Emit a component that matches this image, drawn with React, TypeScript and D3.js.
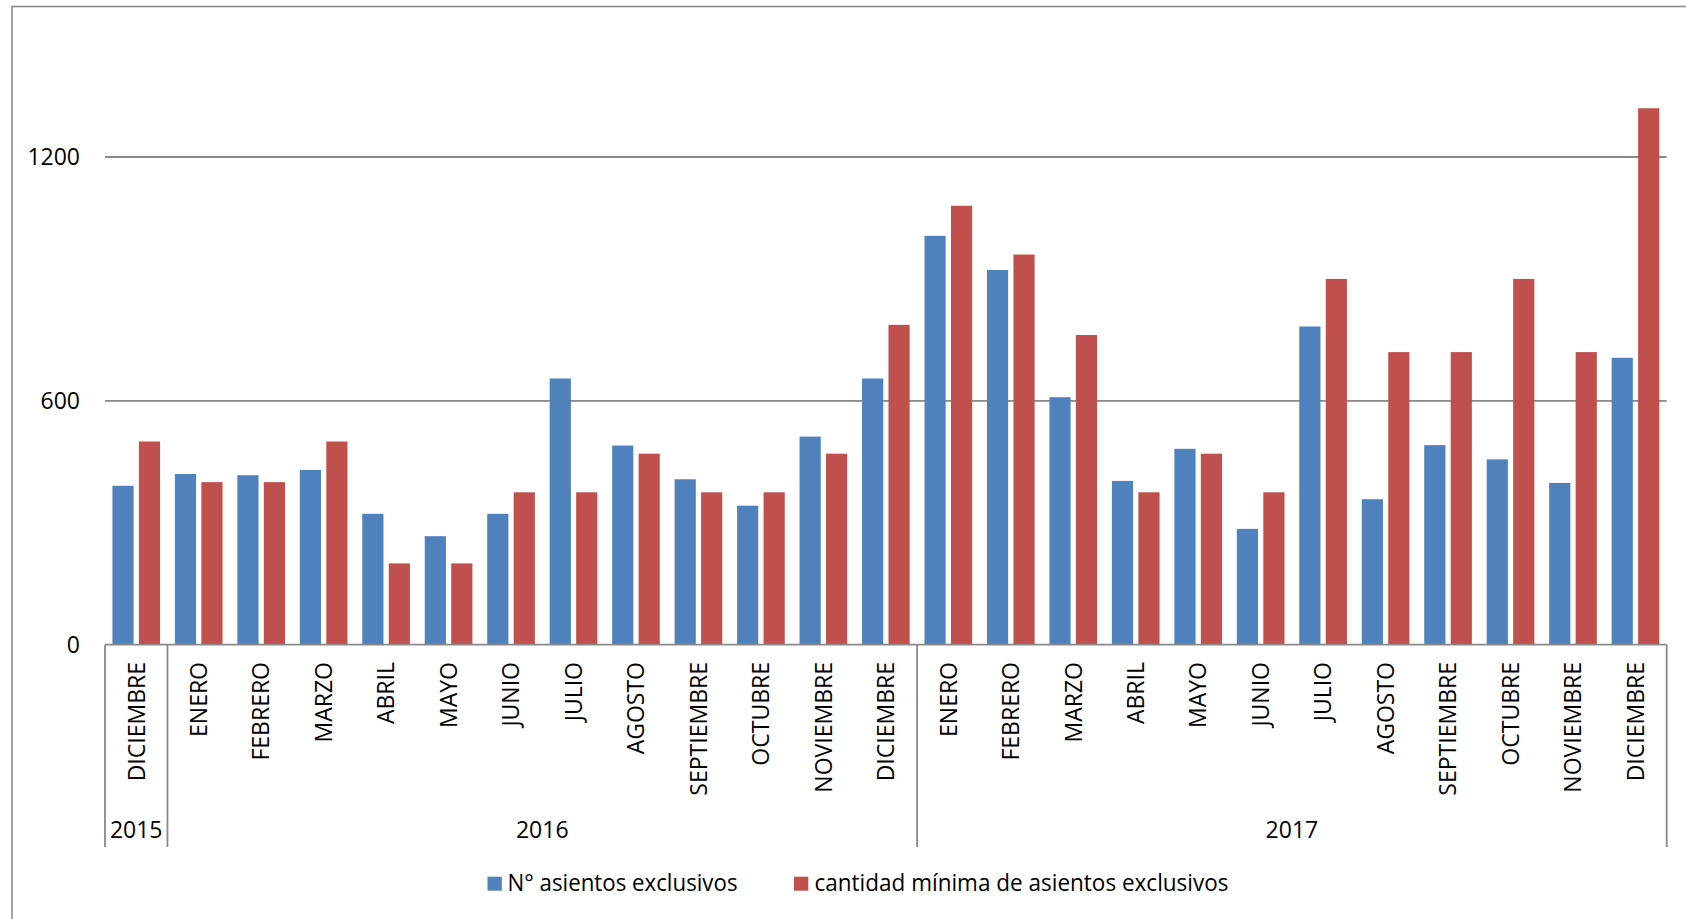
import React from 'react';
import * as d3 from 'd3';

// Month of each category, in order (Dec 2015 – Dec 2017)
const MONTHS = [
  'DICIEMBRE',
  'ENERO', 'FEBRERO', 'MARZO', 'ABRIL', 'MAYO', 'JUNIO',
  'JULIO', 'AGOSTO', 'SEPTIEMBRE', 'OCTUBRE', 'NOVIEMBRE', 'DICIEMBRE',
  'ENERO', 'FEBRERO', 'MARZO', 'ABRIL', 'MAYO', 'JUNIO',
  'JULIO', 'AGOSTO', 'SEPTIEMBRE', 'OCTUBRE', 'NOVIEMBRE', 'DICIEMBRE',
];

// Year of each category
const YEARS = [
  '2015',
  '2016', '2016', '2016', '2016', '2016', '2016',
  '2016', '2016', '2016', '2016', '2016', '2016',
  '2017', '2017', '2017', '2017', '2017', '2017',
  '2017', '2017', '2017', '2017', '2017', '2017',
];

// N° asientos exclusivos
const ASIENTOS = [
  391,
  420, 417, 430, 322, 267, 322, 655, 490, 407, 342, 512, 655,
  1006, 922, 609, 403, 482, 285, 783, 358, 491, 456, 398, 706,
];

// cantidad mínima de asientos exclusivos
const MINIMO = [
  500,
  400, 400, 500, 200, 200, 375, 375, 470, 375, 375, 470, 787,
  1080, 960, 762, 375, 470, 375, 900, 720, 720, 900, 720, 1320,
];

const Y_TICKS = [0, 600, 1200];

const SERIES = [
  { name: 'N° asientos exclusivos', values: ASIENTOS, color: '#4F81BD' },
  { name: 'cantidad mínima de asientos exclusivos', values: MINIMO, color: '#C0504D' },
];

const W = 1686;
const H = 919;
const FONT = '"Open Sans", "Noto Sans", sans-serif';
const GRID = '#898989';

export default function App() {
  const left = 105;
  const right = 1666.7;
  const y0 = 644.7;

  const x = d3
    .scaleBand<number>()
    .domain(d3.range(MONTHS.length))
    .range([left, right])
    .padding(0);
  const bw = x.bandwidth();

  // gap width 70%, overlap -25%
  const barW = bw / 2.95;
  const offset = barW * 0.35;
  const step = barW * 1.25;

  const y = d3.scaleLinear().domain([0, 1200]).range([y0, 157]);

  // group consecutive categories by year
  const yearGroups: { label: string; start: number; end: number }[] = [];
  YEARS.forEach((yr, i) => {
    const last = yearGroups[yearGroups.length - 1];
    if (last && last.label === yr) last.end = i;
    else yearGroups.push({ label: yr, start: i, end: i });
  });
  const dividers = [left, ...yearGroups.map((g) => (x(g.end) as number) + bw)];

  const axisBottom = 847;
  const monthTop = 662;

  // legend entries: marker x, text x, text length
  const legend = [
    { mx: 487.5, tx: 507.5, len: 230 },
    { mx: 794, tx: 814.5, len: 414 },
  ];

  return (
    <svg
      width={W}
      height={H}
      style={{ position: 'fixed', left: 0, top: 0, background: '#fff' }}
      fontFamily={FONT}
    >
      <rect x={0} y={0} width={W} height={H} fill="#fff" />
      {/* chart frame */}
      <rect x={12} y={6.5} width={W + 20} height={H + 20} fill="none" stroke="#8c8c8c" strokeWidth={1.6} />

      {/* gridlines */}
      {Y_TICKS.filter((t) => t > 0).map((t) => (
        <line key={t} x1={left} x2={right} y1={y(t)} y2={y(t)} stroke={GRID} strokeWidth={1.8} />
      ))}

      {/* y tick labels */}
      {Y_TICKS.map((t) => (
        <text key={t} x={80} y={y(t)} dy="0.36em" textAnchor="end" fontSize={23} fill="#000">
          {t}
        </text>
      ))}

      {/* bars */}
      {SERIES.map((s, si) =>
        s.values.map((v, i) => (
          <rect
            key={`${si}-${i}`}
            x={(x(i) as number) + offset + si * step}
            y={y(v)}
            width={barW}
            height={y0 - y(v)}
            fill={s.color}
          />
        ))
      )}

      {/* category axis */}
      <line x1={left} x2={right} y1={y0} y2={y0} stroke={GRID} strokeWidth={1.8} />
      {dividers.map((dx, i) => (
        <line key={i} x1={dx} x2={dx} y1={y0} y2={axisBottom} stroke={GRID} strokeWidth={1.8} />
      ))}

      {/* month labels */}
      {MONTHS.map((m, i) => (
        <text
          key={i}
          transform={`translate(${(x(i) as number) + bw / 2}, ${monthTop}) rotate(-90)`}
          textAnchor="end"
          dy="0.36em"
          fontSize={23}
          fill="#000"
        >
          {m}
        </text>
      ))}

      {/* year labels */}
      {yearGroups.map((g) => (
        <text
          key={g.label}
          x={((x(g.start) as number) + (x(g.end) as number) + bw) / 2}
          y={838}
          textAnchor="middle"
          fontSize={23}
          fill="#000"
        >
          {g.label}
        </text>
      ))}

      {/* legend */}
      {SERIES.map((s, i) => (
        <g key={s.name}>
          <rect x={legend[i].mx} y={876.7} width={14.3} height={14} fill={s.color} />
          <text
            x={legend[i].tx}
            y={890.7}
            fontSize={23}
            textLength={legend[i].len}
            lengthAdjust="spacingAndGlyphs"
            fill="#000"
          >
            {s.name}
          </text>
        </g>
      ))}
    </svg>
  );
}
